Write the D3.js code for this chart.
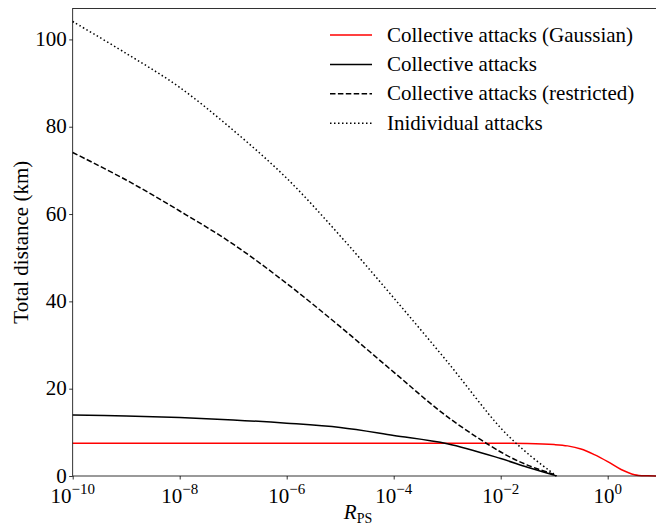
<!DOCTYPE html>
<html>
<head>
<meta charset="utf-8">
<script src="https://cdn.jsdelivr.net/npm/d3@7"></script>
<style>
  html, body { margin: 0; padding: 0; background: #fff; }
</style>
</head>
<body>
<script>
// R_PS sample points
const rBlack = [1e-10, 1e-9, 1e-8, 1e-7, 1e-6, 1e-5, 1e-4, 1e-3, 1e-2, 10 ** -1.5, 1e-1, 0.11]
const individual = [104.1, 96.8, 89.0, 79.2, 68.2, 55.0, 40.8, 26.2, 11.0, 5.2, 0.4, 0]
const restricted = [74.1, 67.8, 60.7, 53.1, 44.1, 34.2, 23.8, 13.6, 5.5, 2.5, 0.3, 0]
const collective = [14.0, 13.75, 13.4, 12.85, 12.1, 11.1, 9.3, 7.4, 4.0, 2.0, 0.2, 0]

const rRed = [1e-10, 1e-2, 10 ** -1.5, 1e-1, 10 ** -0.75, 10 ** -0.5, 10 ** -0.25, 1, 10 ** 0.25, 10 ** 0.5, 10 ** 0.75, 10]
const gaussian = [7.5, 7.5, 7.45, 7.2, 6.9, 6.2, 4.9, 3.3, 1.5, 0.3, 0.03, 0]

const xTicks = [1e-10, 1e-8, 1e-6, 1e-4, 1e-2, 1]
const yTicks = [0, 20, 40, 60, 80, 100]

const legendLabels = [
  'Collective attacks (Gaussian)',
  'Collective attacks',
  'Collective attacks (restricted)',
  'Inidividual attacks'
]

const width = 656
const height = 526
const margin = { left: 72.7, top: 8.5, bottom: 476, right: 661.2 }
const fontSize = 21
const serif = '"Liberation Serif", "DejaVu Serif", serif'

const series = [
  { x: rRed, y: gaussian, color: '#ff0000', dash: null },
  { x: rBlack, y: collective, color: '#000', dash: null },
  { x: rBlack, y: restricted, color: '#000', dash: '5.5,2.4' },
  { x: rBlack, y: individual, color: '#000', dash: '1.5,2.5' }
]

const svg = d3.select('body').append('svg')
  .attr('width', width)
  .attr('height', height)
  .style('display', 'block')

const x = d3.scaleLog()
  .domain([1e-10, 10])
  .range([margin.left, margin.right])

const y = d3.scaleLinear()
  .domain([0, 107.08])
  .range([margin.bottom, margin.top])

// lines
const line = d3.line()
  .x(d => x(d[0]))
  .y(d => y(d[1]))
  .curve(d3.curveCatmullRom.alpha(0.5))

series.forEach(s => {
  svg.append('path')
    .attr('d', line(s.x.map((v, i) => [v, s.y[i]])))
    .attr('fill', 'none')
    .attr('stroke', s.color)
    .attr('stroke-width', 1.5)
    .attr('stroke-dasharray', s.dash)
})

// axes
const xAxis = d3.axisBottom(x).tickValues(xTicks).tickSize(3.5).tickFormat('')
const yAxis = d3.axisLeft(y).tickValues(yTicks).tickSize(3.5).tickFormat('')

svg.append('g')
  .attr('transform', `translate(0, ${margin.bottom})`)
  .call(xAxis)
  .call(g => g.select('.domain').remove())

svg.append('g')
  .attr('transform', `translate(${margin.left}, 0)`)
  .call(yAxis)
  .call(g => g.select('.domain').remove())

svg.selectAll('.tick line').attr('stroke', '#000').attr('stroke-width', 0.8)

// spines
svg.append('rect')
  .attr('x', margin.left)
  .attr('y', margin.top)
  .attr('width', margin.right - margin.left)
  .attr('height', margin.bottom - margin.top)
  .attr('fill', 'none')
  .attr('stroke', '#000')
  .attr('stroke-width', 0.8)

// x tick labels 10^n
xTicks.forEach(t => {
  const txt = svg.append('text')
    .attr('x', x(t))
    .attr('y', margin.bottom + 26.5)
    .attr('text-anchor', 'middle')
    .attr('font-family', serif)
    .attr('font-size', fontSize)
  txt.append('tspan').text('10')
  txt.append('tspan')
    .attr('dy', -9)
    .attr('font-size', 15)
    .text(Math.log10(t) === 0 ? '0' : '\u2212' + Math.abs(Math.round(Math.log10(t))))
})

// y tick labels
yTicks.forEach(t => {
  svg.append('text')
    .attr('x', margin.left - 6)
    .attr('y', y(t) + 6.5)
    .attr('text-anchor', 'end')
    .attr('font-family', serif)
    .attr('font-size', fontSize)
    .text(t)
})

// axis labels
svg.append('text')
  .attr('transform', `translate(28, ${(margin.top + margin.bottom) / 2}) rotate(-90)`)
  .attr('text-anchor', 'middle')
  .attr('font-family', serif)
  .attr('font-size', fontSize)
  .text('Total distance (km)')

const xl = svg.append('text')
  .attr('x', 358)
  .attr('y', 519)
  .attr('text-anchor', 'middle')
  .attr('font-family', serif)
  .attr('font-size', fontSize)
xl.append('tspan').attr('font-style', 'italic').text('R')
xl.append('tspan').attr('dy', 3.5).attr('font-size', 14).text('PS')

// legend
const legend = svg.append('g')
legendLabels.forEach((label, i) => {
  const cy = 35 + i * 29.4
  legend.append('line')
    .attr('x1', 330).attr('x2', 372)
    .attr('y1', cy).attr('y2', cy)
    .attr('stroke', series[i].color)
    .attr('stroke-width', 1.5)
    .attr('stroke-dasharray', series[i].dash)
  legend.append('text')
    .attr('x', 387)
    .attr('y', cy + 6.5)
    .attr('font-family', serif)
    .attr('font-size', fontSize)
    .text(label)
})
</script>
</body>
</html>
